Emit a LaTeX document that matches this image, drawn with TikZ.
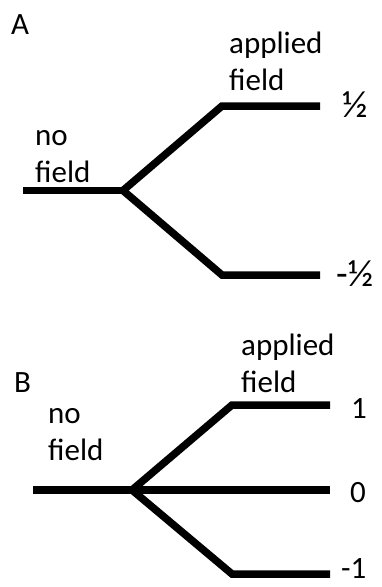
\documentclass[tikz,border=0pt]{standalone}
\usepackage{fontspec}
\setmainfont{Carlito}
\begin{document}
\begin{tikzpicture}[x=1pt,y=-1pt,
  level/.style={line width=7.5pt,line cap=butt,line join=miter},
  lbl/.style={inner sep=0pt,anchor=base west,align=left,
    font=\fontsize{31}{36.5}\selectfont},
  frac/.style={lbl,font=\fontsize{38}{40}\selectfont}]
\useasboundingbox (0,0) rectangle (381,587);

% ---- panel A: spin 1/2 ----
% (multi-line labels are placed by the baseline of their last line)
\node[lbl] (tagA) at (11,34) {A};
\node[lbl] (nofieldA) at (35,182) {no\\field};
\node[lbl] (appliedA) at (229,90) {applied\\field};

\coordinate (a0) at (23,190.5);
\coordinate (asplit) at (123,190.5);
\coordinate (aup) at (222,106);
\coordinate (aupend) at (320,106);
\coordinate (adown) at (222,275);
\coordinate (adownend) at (320,275);

\draw[level] (a0) -- (asplit);
\draw[level] (asplit) -- (aup) -- (aupend);
\draw[level] (asplit) -- (adown) -- (adownend);

\node[frac] (halfup) at (342,117) {½};
\node[frac] (halfdown) at (336,286) {-½};

% ---- panel B: spin 1 ----
\node[lbl] (tagB) at (14,392) {B};
\node[lbl] (nofieldB) at (48,460) {no\\field};
\node[lbl] (appliedB) at (241,392) {applied\\field};

\coordinate (b0) at (33,490);
\coordinate (bsplit) at (132,490);
\coordinate (bup) at (232,405);
\coordinate (bupend) at (330,405);
\coordinate (bmidend) at (330,490);
\coordinate (bdown) at (232,574);
\coordinate (bdownend) at (330,574);

\draw[level] (b0) -- (bsplit);
\draw[level] (bsplit) -- (bup) -- (bupend);
\draw[level] (bsplit) -- (bmidend);
\draw[level] (bsplit) -- (bdown) -- (bdownend);

\node[lbl] (mplus) at (351,418) {1};
\node[lbl] (mzero) at (350,502) {0};
\node[lbl] (mminus) at (341,578) {-1};
\end{tikzpicture}
\end{document}
